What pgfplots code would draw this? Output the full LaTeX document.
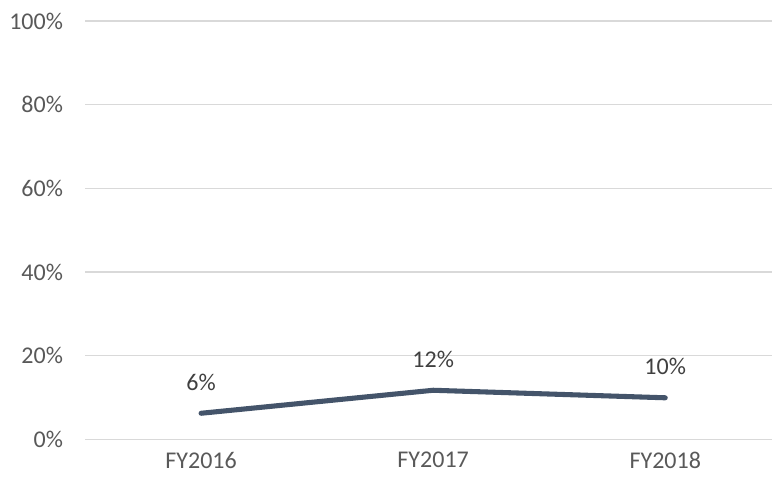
\documentclass[border=0pt]{standalone}
\usepackage{pgfplots}
\pgfplotsset{compat=1.18}
\usepackage{fontspec}
\setmainfont{Carlito}
\definecolor{linec}{HTML}{44546A}
\definecolor{gridc}{HTML}{D9D9D9}
\definecolor{txt}{HTML}{595959}
\definecolor{lbl}{HTML}{404040}
\begin{document}
\begin{tikzpicture}[x=1pt,y=1pt]
\begin{axis}[
  at={(0,0)}, anchor=south west,
  width=515pt, height=313.5pt,
  scale only axis,
  xmin=-0.5, xmax=2.46,
  ymin=0, ymax=100,
  xtick={0,1,2},
  xticklabels={FY2016,FY2017,FY2018},
  ytick={0,20,40,60,80,100},
  yticklabel={\pgfmathprintnumber{\tick}\%},
  /pgf/number format/assume math mode=true,
  axis line style={draw=none},
  ymajorgrids,
  grid style={gridc, line width=0.9pt},
  major tick length=0pt,
  tick style={draw=none},
  ticklabel style={font=\fontsize{18pt}{21pt}\selectfont, text=txt},
  yticklabel style={xshift=-13pt},
  xticklabel style={yshift=-6pt},
  clip=false,
  nodes near coords,
  point meta=explicit symbolic,
  every node near coord/.append style={font=\fontsize{18pt}{21pt}\selectfont, text=lbl, yshift=12pt},
]
\addplot[color=linec, line width=3.8pt, line cap=round, line join=round, mark=none]
  coordinates {(0,6.2)[6\%] (1,11.7)[12\%] (2,9.9)[10\%]};
\end{axis}
\pgfresetboundingbox
\path[use as bounding box] (-63.75pt,-33pt) rectangle (515pt,329.25pt);
\end{tikzpicture}
\end{document}
